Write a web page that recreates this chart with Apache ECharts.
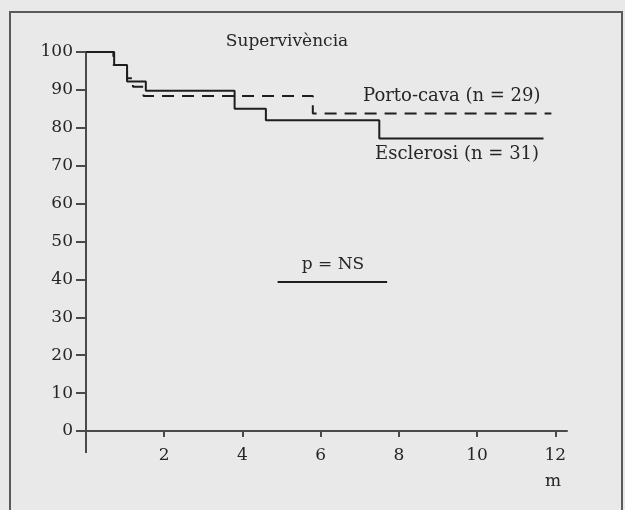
<!DOCTYPE html>
<html lang="ca">
<head>
    <meta charset="UTF-8">
    <title>Supervivència</title>
    <script src="https://cdn.jsdelivr.net/npm/echarts@6/dist/echarts.min.js"></script>
    <style>
        body { margin: 0; background: #e9e9e9; }
    </style>
</head>
<body>
<div id="chart" style="width: 625px;height:510px;"></div>
<script>
    // mesos, supervivència (%)
    var esclerosi = [[0, 100], [0.72, 96.6], [1.05, 92.2], [1.53, 89.8], [3.8, 85], [4.6, 82], [7.5, 77.2], [11.7, 77.2]];
    var portoCava = [[0, 100], [0.7, 96.6], [1.05, 93.1], [1.2, 90.8], [1.47, 88.4], [5.8, 83.8], [11.9, 83.8]];
    var pLine = [[4.9, 39.3], [7.7, 39.3]];
    var xTicks = [2, 4, 6, 8, 10, 12];

    var serif = 'DejaVu Serif';
    var ink = '#262626';

    var myChart = echarts.init(document.getElementById('chart'));
    var option = {
        backgroundColor: '#e9e9e9',
        animation: false,
        grid: { left: 86, top: 52, right: 58, bottom: 79 },
        xAxis: {
            type: 'value',
            min: 0,
            max: 12.3,
            splitLine: { show: false },
            axisLine: { lineStyle: { color: '#4a4a4a', width: 2 } },
            axisTick: { customValues: xTicks, length: 6, lineStyle: { color: '#4a4a4a', width: 2 } },
            axisLabel: { customValues: xTicks, color: ink, fontFamily: serif, fontSize: 17, margin: 16 }
        },
        yAxis: {
            type: 'value',
            min: 0,
            max: 100,
            interval: 10,
            splitLine: { show: false },
            axisLine: { lineStyle: { color: '#4a4a4a', width: 2 } },
            axisTick: { length: 10, lineStyle: { color: '#4a4a4a', width: 2 } },
            axisLabel: { color: ink, fontFamily: serif, fontSize: 17, margin: 13 }
        },
        series: [
            {
                name: 'Esclerosi (n = 31)',
                type: 'line',
                step: 'end',
                data: esclerosi,
                symbol: 'none',
                lineStyle: { color: '#1e1e1e', width: 2 }
            },
            {
                name: 'Porto-cava (n = 29)',
                type: 'line',
                step: 'end',
                data: portoCava,
                symbol: 'none',
                lineStyle: { color: '#1e1e1e', width: 2, type: [12, 8] }
            },
            {
                name: 'p',
                type: 'line',
                data: pLine,
                symbol: 'none',
                lineStyle: { color: '#1e1e1e', width: 2 }
            }
        ],
        graphic: [
            { type: 'rect', shape: { x: 10, y: 12, width: 612, height: 510 }, style: { fill: 'none', stroke: '#5a5a5a', lineWidth: 2 } },
            // prolongació de l'eix vertical per sota del zero
            { type: 'line', shape: { x1: 86, y1: 431, x2: 86, y2: 453 }, style: { stroke: '#4a4a4a', lineWidth: 2 } },
            { type: 'text', x: 287, y: 42, style: { text: 'Supervivència', font: '17px "DejaVu Serif"', fill: ink, align: 'center', verticalAlign: 'middle' } },
            { type: 'text', x: 363, y: 96, style: { text: 'Porto-cava (n = 29)', font: '18px "DejaVu Serif"', fill: ink, verticalAlign: 'middle' } },
            { type: 'text', x: 375, y: 154, style: { text: 'Esclerosi (n = 31)', font: '18px "DejaVu Serif"', fill: ink, verticalAlign: 'middle' } },
            { type: 'text', x: 333, y: 265, style: { text: 'p = NS', font: '17px "DejaVu Serif"', fill: ink, align: 'center', verticalAlign: 'middle' } },
            { type: 'text', x: 553, y: 482, style: { text: 'm', font: '17px "DejaVu Serif"', fill: ink, align: 'center', verticalAlign: 'middle' } }
        ]
    };
    myChart.setOption(option);
</script>
</body>
</html>
